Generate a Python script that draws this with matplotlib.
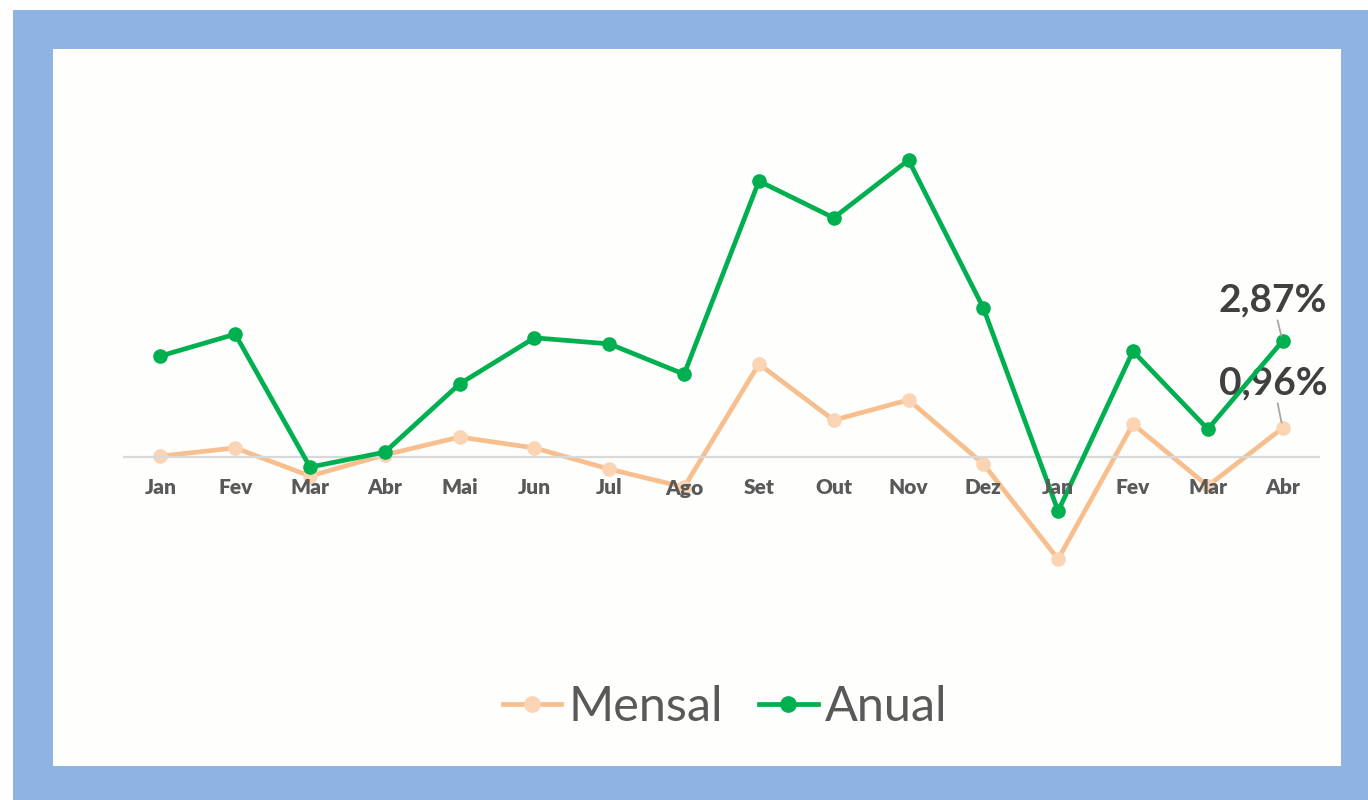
import matplotlib.pyplot as plt
from matplotlib.patches import Rectangle
from matplotlib.lines import Line2D

meses = ["Jan", "Fev", "Mar", "Abr", "Mai", "Jun", "Jul", "Ago",
         "Set", "Out", "Nov", "Dez", "Jan", "Fev", "Mar", "Abr"]
mensal = [0.03, 0.30, -0.63, 0.07, 0.66, 0.30, -0.40, -1.00,
          3.08, 1.22, 1.89, -0.23, -3.38, 1.09, -0.96, 0.96]
anual = [2.50, 3.04, -0.25, 0.12, 1.81, 2.95, 2.80, 2.05,
         6.83, 5.92, 7.35, 3.69, -1.34, 2.62, 0.69, 2.87]

W, H = 1368, 800
cor_mensal = "#F8BF8E"
cor_mensal_mk = "#FBD4B4"
cor_anual = "#00B050"
cinza = "#595959"
fonte = "Lato"

fig = plt.figure(figsize=(W / 100, H / 100), dpi=100)
fig.patch.set_facecolor("white")

# moldura azul e painel branco
fig.patches.append(Rectangle((13 / W, 0), 1 - 13 / W, 1 - 10 / H,
                             transform=fig.transFigure, facecolor="#8FB4E3",
                             edgecolor="none", zorder=0))
fig.patches.append(Rectangle((53 / W, 1 - 766 / H), (1341 - 53) / W, (766 - 49) / H,
                             transform=fig.transFigure, facecolor="#FEFEFD",
                             edgecolor="none", zorder=1))

top_px, bot_px, zero_px = 100, 600, 457
ax = fig.add_axes([123 / W, 1 - bot_px / H, 1197 / W, (bot_px - top_px) / H])
ax.set_facecolor("none")
ax2 = ax.twinx()
ax2.set_zorder(5)
ax.set_zorder(6)

esc1 = 40.4
esc2 = 30.2
ax.set_ylim(-(bot_px - zero_px) / esc1, (zero_px - top_px) / esc1)
ax2.set_ylim(-(bot_px - zero_px) / esc2, (zero_px - top_px) / esc2)

x = list(range(len(meses)))
ax.set_xlim(-0.5, len(meses) - 0.5)

ax.axhline(0, color="#D9D9D9", lw=1.6, zorder=1)

ax2.plot(x, mensal, color=cor_mensal, lw=3.4, marker="o", markersize=9.5,
         markerfacecolor=cor_mensal_mk, markeredgecolor=cor_mensal_mk, zorder=2)
ax.plot(x, anual, color=cor_anual, lw=3.4, marker="o", markersize=9.5, zorder=3)

for a in (ax, ax2):
    for s in a.spines.values():
        s.set_visible(False)
    a.set_yticks([])

# rótulos do eixo logo abaixo da linha do zero
ax.set_xticks([])
for i, m in enumerate(meses):
    ax.annotate(m, (i, 0), xytext=(0, -31), textcoords="offset pixels",
                ha="center", va="center", fontsize=15, fontweight="heavy",
                color=cinza, family=fonte)

# rótulos de dados do último ponto
ax.annotate("2,87%", (x[-1], anual[-1]), xytext=(-10, 41),
            textcoords="offset pixels", ha="center", va="center",
            fontsize=28, fontweight="bold", color="#404040", family=fonte,
            arrowprops=dict(arrowstyle="-", color="#A6A6A6", lw=1.3,
                            shrinkA=0, shrinkB=4))
ax2.annotate("0,96%", (x[-1], mensal[-1]), xytext=(-9, 45),
             textcoords="offset pixels", ha="center", va="center",
             fontsize=28, fontweight="bold", color="#404040", family=fonte,
             arrowprops=dict(arrowstyle="-", color="#A6A6A6", lw=1.3,
                             shrinkA=0, shrinkB=4))

handles = [
    Line2D([], [], color=cor_mensal, lw=3.4, marker="o", markersize=11,
           markerfacecolor=cor_mensal_mk, markeredgecolor=cor_mensal_mk),
    Line2D([], [], color=cor_anual, lw=3.4, marker="o", markersize=11),
]
leg = fig.legend(handles, ["Mensal", "Anual"], loc="center",
                 bbox_to_anchor=(725 / W, 1 - 707 / H), ncol=2, frameon=False,
                 handlelength=1.2, handletextpad=0.15, columnspacing=0.75,
                 prop={"family": fonte, "size": 35})
for t in leg.get_texts():
    t.set_color(cinza)

fig.savefig("out.png", dpi=100)
